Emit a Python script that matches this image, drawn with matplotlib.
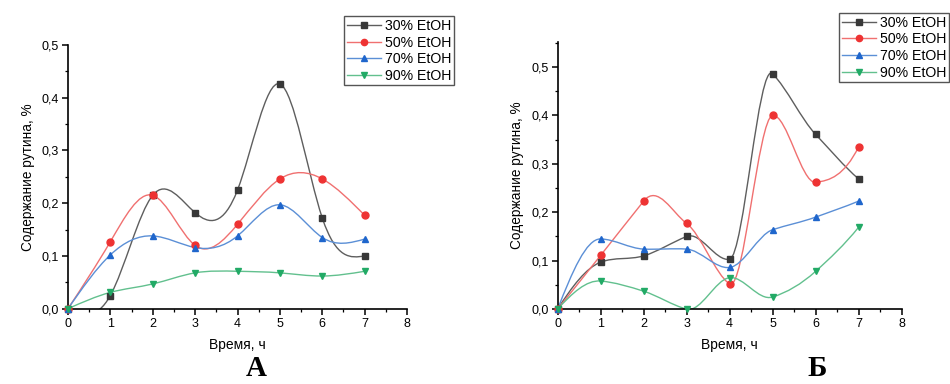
import numpy as np
import matplotlib
matplotlib.use('Agg')
import matplotlib.pyplot as plt
from matplotlib.path import Path
from matplotlib.patches import PathPatch
from matplotlib.lines import Line2D
from matplotlib.ticker import MultipleLocator, FuncFormatter

plt.rcParams['font.family'] = ['Liberation Sans', 'DejaVu Sans']

hours = [0, 1, 2, 3, 4, 5, 6, 7]
series_names = ['30% EtOH', '50% EtOH', '70% EtOH', '90% EtOH']

# chart A
a_30 = [0, 0.025, 0.215, 0.182, 0.225, 0.426, 0.172, 0.100]
a_50 = [0, 0.127, 0.215, 0.120, 0.160, 0.246, 0.246, 0.177]
a_70 = [0, 0.102, 0.138, 0.116, 0.138, 0.197, 0.135, 0.132]
a_90 = [0, 0.031, 0.047, 0.068, 0.071, 0.068, 0.062, 0.071]

# chart B
b_30 = [0, 0.097, 0.110, 0.150, 0.103, 0.486, 0.361, 0.269]
b_50 = [0, 0.111, 0.223, 0.177, 0.052, 0.400, 0.262, 0.335]
b_70 = [0, 0.145, 0.124, 0.124, 0.086, 0.164, 0.190, 0.223]
b_90 = [0, 0.058, 0.037, 0.000, 0.065, 0.025, 0.078, 0.169]

line_colors = ['#5e5e5e', '#f07070', '#5b8fd6', '#62c08e']
marker_colors = ['#383838', '#ee3333', '#1f66cc', '#22aa66']
markers = ['s', 'o', '^', 'v']


def natural_slopes(x, y):
    n = len(x)
    h = np.diff(x)
    A = np.zeros((n, n))
    r = np.zeros(n)
    A[0, 0] = A[-1, -1] = 1
    for i in range(1, n - 1):
        A[i, i - 1] = h[i - 1]
        A[i, i] = 2 * (h[i - 1] + h[i])
        A[i, i + 1] = h[i]
        r[i] = 6 * ((y[i + 1] - y[i]) / h[i] - (y[i] - y[i - 1]) / h[i - 1])
    M = np.linalg.solve(A, r)
    m = np.zeros(n)
    for i in range(n - 1):
        m[i] = (y[i + 1] - y[i]) / h[i] - h[i] * (2 * M[i] + M[i + 1]) / 6
    m[-1] = (y[-1] - y[-2]) / h[-1] + h[-1] * (M[-2] + 2 * M[-1]) / 6
    return m


def akima_slopes(x, y):
    d = list(np.diff(y) / np.diff(x))
    d = [3 * d[0] - 2 * d[1], 2 * d[0] - d[1]] + d
    d = d + [2 * d[-1] - d[-2]]
    d = d + [2 * d[-1] - d[-2]]
    d = np.array(d)
    m = np.zeros(len(x))
    for i in range(len(x)):
        w1 = abs(d[i + 3] - d[i + 2])
        w2 = abs(d[i + 1] - d[i])
        if w1 + w2 < 1e-12:
            m[i] = (d[i + 1] + d[i + 2]) / 2
        else:
            m[i] = (w1 * d[i + 1] + w2 * d[i + 2]) / (w1 + w2)
    return m


def curve_path(x, y, method):
    # cubic Hermite pieces written as Bezier segments
    x = np.asarray(x, float)
    y = np.asarray(y, float)
    m = natural_slopes(x, y) if method == 'natural' else akima_slopes(x, y)
    verts = [(x[0], y[0])]
    codes = [Path.MOVETO]
    for i in range(len(x) - 1):
        h = x[i + 1] - x[i]
        verts += [(x[i] + h / 3, y[i] + m[i] * h / 3),
                  (x[i + 1] - h / 3, y[i + 1] - m[i + 1] * h / 3),
                  (x[i + 1], y[i + 1])]
        codes += [Path.CURVE4] * 3
    return Path(verts, codes)


def draw_panel(ax, data, ymax, method):
    for k, y in enumerate(data):
        ax.add_patch(PathPatch(curve_path(hours, y, method), fill=False,
                               edgecolor=line_colors[k], linewidth=1.0, zorder=2))
    for k, y in enumerate(data):
        ax.plot(hours, y, linestyle='none', marker=markers[k], markersize=5,
                color=marker_colors[k], clip_on=False, zorder=3 + k)
    ax.set_xlim(0, 8)
    ax.set_ylim(0, ymax)
    ax.spines['top'].set_visible(False)
    ax.spines['right'].set_visible(False)
    for s in ('left', 'bottom'):
        ax.spines[s].set_linewidth(1.2)
    ax.xaxis.set_major_locator(MultipleLocator(1))
    ax.xaxis.set_minor_locator(MultipleLocator(0.5))
    ax.yaxis.set_major_locator(MultipleLocator(0.1))
    ax.yaxis.set_minor_locator(MultipleLocator(0.05))
    ax.yaxis.set_major_formatter(FuncFormatter(lambda v, p: f'{v:.1f}'.replace('.', ',')))
    ax.tick_params(which='major', length=4, width=1.1, labelsize=9, direction='out', pad=2.5)
    ax.tick_params(which='minor', length=2.5, width=0.9, direction='out')
    ax.set_xlabel('Время, ч', fontsize=10, labelpad=6)
    ax.set_ylabel('Содержание рутина, %', fontsize=9.8, labelpad=5)
    handles = [Line2D([], [], color=line_colors[k], linewidth=1.0, marker=markers[k],
                      markersize=4.5, markerfacecolor=marker_colors[k],
                      markeredgecolor=marker_colors[k]) for k in range(4)]
    return handles


fig = plt.figure(figsize=(9.5, 3.84), dpi=100)
ax_a = fig.add_axes([0.0715, 0.196, 0.357, 0.687])
ax_b = fig.add_axes([0.587, 0.195, 0.362, 0.696])

h_a = draw_panel(ax_a, [a_30, a_50, a_70, a_90], 0.5, 'natural')
h_b = draw_panel(ax_b, [b_30, b_50, b_70, b_90], 0.552, 'akima')

for handles, anchor in ((h_a, (0.478, 0.958)), (h_b, (0.999, 0.966))):
    leg = fig.legend(handles, series_names, loc='upper right', bbox_to_anchor=anchor,
                     fontsize=10.2, fancybox=False, framealpha=1, edgecolor='#555555',
                     borderpad=0.2, labelspacing=0.18, handlelength=2.4,
                     handletextpad=0.3, borderaxespad=0)
    leg.get_frame().set_linewidth(1.0)

fig.text(0.27, 0.004, 'А', fontsize=21, fontweight='bold', family='Liberation Serif',
         ha='center', va='bottom')
fig.text(0.86, 0.004, 'Б', fontsize=21, fontweight='bold', family='Liberation Serif',
         ha='center', va='bottom')

fig.savefig('out.png', dpi=100)
